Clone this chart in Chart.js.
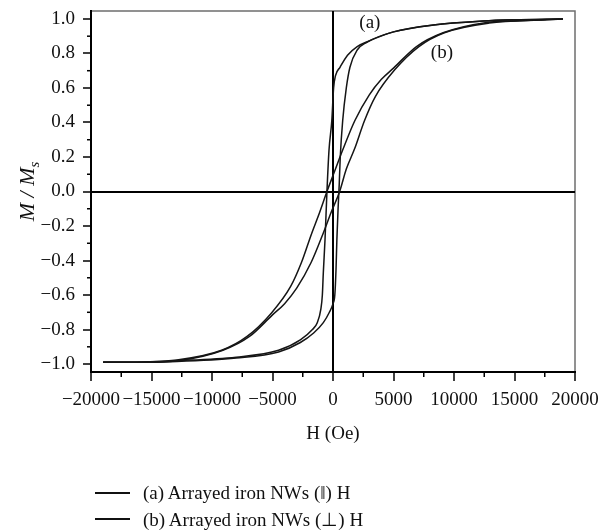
<!DOCTYPE html>
<html>
<head>
<meta charset="utf-8">
<script src="https://cdn.jsdelivr.net/npm/chart.js@4.4.1/dist/chart.umd.min.js"></script>
<style>
body { margin: 0; background: #fff; }
#wrap { position: relative; width: 613px; height: 530px; }
#legend { position: absolute; left: 95px; top: 480px; font: 19px "Liberation Serif", serif; color: #111; }
.item { display: flex; align-items: center; height: 26px; white-space: nowrap; }
.swatch { width: 35px; height: 0; border-top: 2px solid #111; margin-right: 13px; }
</style>
</head>
<body>
<div id="wrap">
<canvas id="myChart" width="613" height="530"></canvas>
<div id="legend"></div>
</div>
<script>
// Loop (a), field parallel: upper branch (field coming down) and lower branch (field going up)
const aDownH = [-19000, -17700, -12900, -8000, -4500, -2700, -1700, -1300, -1000, -880, -800, -660, -500, -330, -100, 50, 200, 580, 1200, 2000, 2800, 5000, 8300, 12400, 15000, 19000]
const aDownM = [-0.99, -0.99, -0.98, -0.96, -0.92, -0.86, -0.80, -0.76, -0.68, -0.6, -0.47, -0.28, 0.0, 0.24, 0.41, 0.6, 0.67, 0.72, 0.79, 0.84, 0.867, 0.925, 0.965, 0.988, 0.995, 1.0]
const aUpH = [-19000, -17700, -12900, -8000, -4500, -2700, -1600, -800, -300, 0, 150, 250, 320, 420, 520, 600, 800, 1100, 1400, 2000, 2800, 5000, 8300, 12400, 15000, 19000]
const aUpM = [-0.99, -0.99, -0.985, -0.965, -0.93, -0.875, -0.82, -0.76, -0.70, -0.65, -0.6, -0.45, -0.28, -0.1, 0.05, 0.2, 0.41, 0.6, 0.72, 0.82, 0.865, 0.925, 0.965, 0.988, 0.995, 1.0]

// Loop (b), field perpendicular
const bDownH = [-19000, -17700, -12900, -9200, -7100, -5100, -3500, -2600, -1800, -1100, -500, 150, 800, 1800, 3000, 4000, 5000, 6900, 9100, 12700, 15400, 19000]
const bDownM = [-0.99, -0.99, -0.976, -0.92, -0.84, -0.705, -0.55, -0.41, -0.25, -0.12, 0.0, 0.12, 0.24, 0.41, 0.56, 0.65, 0.715, 0.84, 0.92, 0.98, 0.99, 1.0]
const bUpH = [-19000, -15400, -12700, -9100, -6900, -5000, -4000, -3000, -1800, -800, -150, 550, 1100, 1800, 2600, 3500, 5100, 7100, 9200, 12900, 17700, 19000]
const bUpM = [-0.99, -0.99, -0.98, -0.92, -0.84, -0.715, -0.65, -0.56, -0.41, -0.24, -0.12, 0.0, 0.13, 0.25, 0.41, 0.55, 0.705, 0.84, 0.92, 0.976, 0.995, 1.0]

const seriesLabels = ['(a) Arrayed iron NWs (\u2016) H', '(b) Arrayed iron NWs (\u22a5) H']
const xTickValues = [-20000, -15000, -10000, -5000, 0, 5000, 10000, 15000, 20000]
const yTickValues = [-1.0, -0.8, -0.6, -0.4, -0.2, 0.0, 0.2, 0.4, 0.6, 0.8, 1.0]
// curve tags drawn inside the plot, in data units
const noteText = ['(a)', '(b)']
const noteH = [3050, 9000]
const noteM = [0.977, 0.80]

const serif = '"Liberation Serif", "Times New Roman", serif'
const minus = s => s.replace('-', '\u2212')

function pts(hs, ms) {
    return hs.map((h, i) => ({x: h, y: ms[i]}))
}

function branch(label, hs, ms) {
    return {
        label: label,
        data: pts(hs, ms),
        showLine: true,
        borderColor: '#151515',
        borderWidth: 1.5,
        pointRadius: 0,
        cubicInterpolationMode: 'monotone'
    }
}

const datasets = [
    branch(seriesLabels[0], aDownH, aDownM),
    branch(seriesLabels[0], aUpH, aUpM),
    branch(seriesLabels[1], bDownH, bDownM),
    branch(seriesLabels[1], bUpH, bUpM)
]

const zeroLine = c => (c.tick && Math.abs(c.tick.value) < 1e-9) ? '#000' : 'rgba(0,0,0,0)'

// frame, minor ticks, tags and the y title with its subscript
const extras = {
    id: 'extras',
    beforeDraw(chart) {
        const {ctx, chartArea: a} = chart
        ctx.save()
        ctx.strokeStyle = '#6e6e6e'
        ctx.lineWidth = 1.5
        ctx.strokeRect(a.left, a.top, a.right - a.left, a.bottom - a.top)
        ctx.restore()
    },
    afterDraw(chart) {
        const {ctx, chartArea: a} = chart
        const x = chart.scales.x
        const y = chart.scales.y
        ctx.save()
        ctx.strokeStyle = '#000'
        ctx.lineWidth = 1.5
        for (let i = 0; i < xTickValues.length - 1; i++) {
            const px = x.getPixelForValue((xTickValues[i] + xTickValues[i + 1]) / 2)
            ctx.beginPath()
            ctx.moveTo(px, a.bottom)
            ctx.lineTo(px, a.bottom + 5)
            ctx.stroke()
        }
        for (let i = 0; i < yTickValues.length - 1; i++) {
            const py = y.getPixelForValue((yTickValues[i] + yTickValues[i + 1]) / 2)
            ctx.beginPath()
            ctx.moveTo(a.left, py)
            ctx.lineTo(a.left - 4, py)
            ctx.stroke()
        }

        ctx.fillStyle = '#111'
        ctx.font = '19px ' + serif
        ctx.textAlign = 'center'
        ctx.textBaseline = 'middle'
        for (let i = 0; i < noteText.length; i++) {
            ctx.fillText(noteText[i], x.getPixelForValue(noteH[i]), y.getPixelForValue(noteM[i]))
        }

        // y title: M/M with subscript s, rotated
        ctx.translate(27, (a.top + a.bottom) / 2)
        ctx.rotate(-Math.PI / 2)
        ctx.textAlign = 'left'
        ctx.textBaseline = 'alphabetic'
        const big = 'italic 22px ' + serif
        const small = 'italic 15px ' + serif
        ctx.font = big
        const w1 = ctx.measureText('M').width
        const w2 = ctx.measureText(' / ').width
        ctx.font = small
        const w3 = ctx.measureText('s').width
        let cx = -(2 * w1 + w2 + w3) / 2
        ctx.font = big
        ctx.fillText('M', cx, 7)
        cx += w1
        ctx.fillText(' / ', cx, 7)
        cx += w2
        ctx.fillText('M', cx, 7)
        cx += w1
        ctx.font = small
        ctx.fillText('s', cx, 12)
        ctx.restore()
    }
}

const config = {
    type: 'scatter',
    data: {datasets: datasets},
    options: {
        responsive: false,
        animation: false,
        layout: {padding: {top: 11, right: 38, bottom: 81, left: 0}},
        plugins: {legend: {display: false}, tooltip: {enabled: false}},
        scales: {
            x: {
                type: 'linear',
                min: -20000,
                max: 20000,
                afterBuildTicks: s => { s.ticks = xTickValues.map(v => ({value: v})) },
                afterFit: s => { s.height = 77; s.paddingLeft = 0; s.paddingRight = 0 },
                ticks: {
                    autoSkip: false,
                    maxRotation: 0,
                    minRotation: 0,
                    padding: 8,
                    color: '#111',
                    font: {family: serif, size: 19},
                    callback: v => minus(String(v))
                },
                grid: {color: zeroLine, lineWidth: 2, tickColor: '#000', tickWidth: 1.5, tickLength: 9},
                border: {display: true, color: '#000', width: 2},
                title: {display: true, text: 'H (Oe)', color: '#111', font: {family: serif, size: 19}, padding: {top: 4, bottom: 4}}
            },
            y: {
                type: 'linear',
                min: -1.046,
                max: 1.046,
                afterBuildTicks: s => { s.ticks = yTickValues.map(v => ({value: v})) },
                afterFit: s => { s.width = 91; s.paddingTop = 0; s.paddingBottom = 0 },
                ticks: {
                    padding: 8,
                    color: '#111',
                    font: {family: serif, size: 19},
                    callback: v => minus(v.toFixed(1))
                },
                grid: {color: zeroLine, lineWidth: 2, tickColor: '#000', tickWidth: 1.5, tickLength: 8},
                border: {display: true, color: '#000', width: 2}
            }
        }
    },
    plugins: [extras]
}

const myChart = new Chart(document.getElementById('myChart'), config)

// legend below the chart, one row per loop
let htmladd = ''
for (const label of seriesLabels) {
    htmladd += "<div class='item'><span class='swatch'></span><span>" + label + "</span></div>"
}
document.getElementById('legend').innerHTML = htmladd
</script>
</body>
</html>
